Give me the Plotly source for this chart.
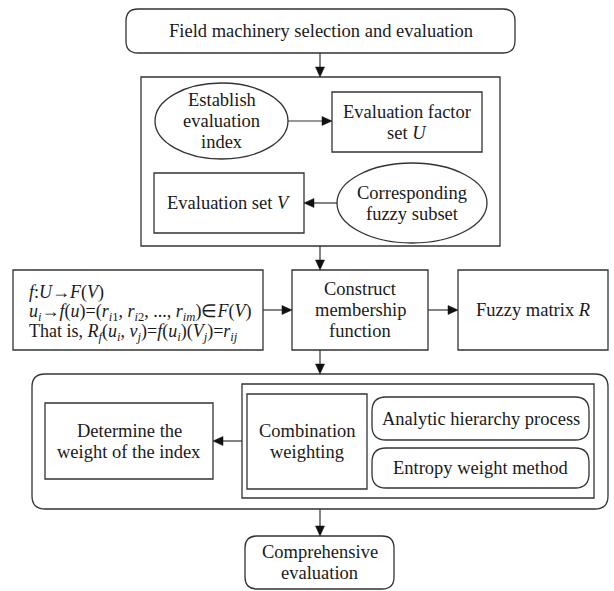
import plotly.graph_objects as go

# ---- text content (data) ----
title_label = ["Field machinery selection and evaluation"]
ellipse_labels = [["Establish", "evaluation", "index"], ["Corresponding", "fuzzy subset"]]
rect_labels = [
    ["Evaluation factor", "set <i>U</i>"],
    ["Evaluation set <i>V</i>"],
    ["Construct", "membership", "function"],
    ["Fuzzy matrix <i>R</i>"],
    ["Determine the", "weight of the index"],
    ["Combination", "weighting"],
]
pill_labels = [["Analytic hierarchy process"], ["Entropy weight method"], ["Comprehensive", "evaluation"]]
formula_lines = [
    "<i>f</i>:<i>U</i>\u2192<i>F</i>(<i>V</i>)",
    "<i>u<sub>i</sub></i>\u2192<i>f</i>(<i>u</i>)=(<i>r</i><sub><i>i</i>1</sub>, <i>r</i><sub><i>i</i>2</sub>, ..., <i>r</i><sub><i>im</i></sub>)\u2208<i>F</i>(<i>V</i>)",
    "That is, <i>R<sub>f</sub></i>(<i>u<sub>i</sub></i>, <i>v<sub>j</sub></i>)=<i>f</i>(<i>u<sub>i</sub></i>)(<i>V<sub>j</sub></i>)=<i>r<sub>ij</sub></i>",
]

# ---- layout geometry (pixel-like coordinates, y downward) ----
LC = "#333333"
TC = "#1a1a1a"
FONT = "Liberation Serif"
FS = 18.5
LW = 1.3

title_geom = (126, 9, 515, 53, 12)
ellipse_geom = [(155, 83, 288, 159), (337, 163, 487, 243)]
rect_geom = [(332, 92, 482, 152), (154, 173, 304, 233), (292, 270, 428, 350),
             (458, 270, 608, 350), (45, 403, 213, 479), (247, 394, 367, 489)]
pill_geom = [(372, 397, 589, 440, 14), (372, 448, 589, 488, 14), (245, 536, 394, 589, 12)]
container_rects = [(141, 77, 500, 246), (13, 270, 263, 350), (242, 384, 594, 498)]
outer_pill = (32, 374, 608, 509, 13)
line_step = 21
formula_x, formula_y0, formula_step = 27, 292, 20
arrows = [((320, 53), (320, 77)), ((288, 121), (332, 121)), ((337, 203), (304, 203)),
          ((320, 246), (320, 270)), ((263, 310), (292, 310)), ((428, 310), (458, 310)),
          ((320, 350), (320, 374)), ((242, 441), (213, 441)), ((320, 509), (320, 536))]
HEAD_LEN, HEAD_HALF = 10, 4.5


def rounded_path(x0, y0, x1, y1, r):
    return (f"M{x0 + r},{y0} L{x1 - r},{y0} Q{x1},{y0} {x1},{y0 + r} "
            f"L{x1},{y1 - r} Q{x1},{y1} {x1 - r},{y1} L{x0 + r},{y1} "
            f"Q{x0},{y1} {x0},{y1 - r} L{x0},{y0 + r} Q{x0},{y0} {x0 + r},{y0} Z")


shapes = []
annotations = []


def add_lines(lines, cx, cy, step=line_step):
    n = len(lines)
    for i, t in enumerate(lines):
        y = cy + (i - (n - 1) / 2) * step
        annotations.append(dict(x=cx, y=y, xref="x", yref="y", text=t, showarrow=False,
                                font=dict(family=FONT, size=FS, color=TC),
                                xanchor="center", yanchor="middle"))


line = dict(color=LC, width=LW)

for (x0, y0, x1, y1) in container_rects:
    shapes.append(dict(type="rect", x0=x0, y0=y0, x1=x1, y1=y1, line=line, xref="x", yref="y"))
x0, y0, x1, y1, r = outer_pill
shapes.append(dict(type="path", path=rounded_path(x0, y0, x1, y1, r), line=line, xref="x", yref="y"))

x0, y0, x1, y1, r = title_geom
shapes.append(dict(type="path", path=rounded_path(x0, y0, x1, y1, r), line=line, xref="x", yref="y"))
add_lines(title_label, (x0 + x1) / 2, (y0 + y1) / 2 - 0.5)

for (x0, y0, x1, y1), lab in zip(ellipse_geom, ellipse_labels):
    shapes.append(dict(type="circle", x0=x0, y0=y0, x1=x1, y1=y1, line=line, xref="x", yref="y"))
    add_lines(lab, (x0 + x1) / 2, (y0 + y1) / 2)

for (x0, y0, x1, y1), lab in zip(rect_geom, rect_labels):
    shapes.append(dict(type="rect", x0=x0, y0=y0, x1=x1, y1=y1, line=line, xref="x", yref="y"))
    add_lines(lab, (x0 + x1) / 2, (y0 + y1) / 2)

for (x0, y0, x1, y1, r), lab in zip(pill_geom, pill_labels):
    shapes.append(dict(type="path", path=rounded_path(x0, y0, x1, y1, r), line=line, xref="x", yref="y"))
    add_lines(lab, (x0 + x1) / 2, (y0 + y1) / 2)

for i, t in enumerate(formula_lines):
    annotations.append(dict(x=formula_x, y=formula_y0 + i * formula_step, xref="x", yref="y", text=t,
                            showarrow=False, font=dict(family=FONT, size=FS - 0.5, color=TC),
                            xanchor="left", yanchor="middle"))

# arrows as line + filled triangle head
for (tx, ty), (hx, hy) in arrows:
    dx, dy = hx - tx, hy - ty
    L = (dx * dx + dy * dy) ** 0.5
    ux, uy = dx / L, dy / L
    bx, by = hx - ux * HEAD_LEN, hy - uy * HEAD_LEN
    px, py = -uy, ux
    shapes.append(dict(type="line", x0=tx, y0=ty, x1=bx, y1=by, line=dict(color=LC, width=1.2),
                       xref="x", yref="y"))
    shapes.append(dict(type="path",
                       path=f"M{hx},{hy} L{bx + px * HEAD_HALF},{by + py * HEAD_HALF} "
                            f"L{bx - px * HEAD_HALF},{by - py * HEAD_HALF} Z",
                       fillcolor="#111111", line=dict(color="#111111", width=0.5), xref="x", yref="y"))

fig = go.Figure()
fig.update_layout(
    width=614, height=591,
    margin=dict(l=0, r=0, t=0, b=0),
    paper_bgcolor="white", plot_bgcolor="white",
    xaxis=dict(range=[0, 614], visible=False, fixedrange=True),
    yaxis=dict(range=[591, 0], visible=False, fixedrange=True),
    shapes=shapes, annotations=annotations, showlegend=False,
)
fig.write_html("out.html", config={"displayModeBar": False},
               post_script="document.body.style.margin='0';document.body.style.padding='0';")
